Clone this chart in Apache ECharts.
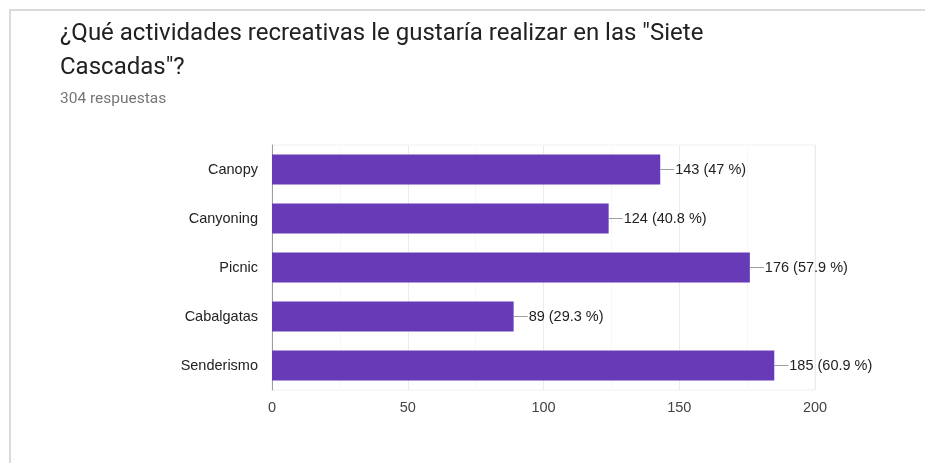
<!DOCTYPE html>
<html>
<head>
<meta charset="utf-8">
<script src="https://cdn.jsdelivr.net/npm/echarts@6/dist/echarts.min.js"></script>
<style>html,body{margin:0;padding:0;background:#fff;}#c{width:925px;height:463px;}</style>
</head>
<body>
<div id="c"></div>
<script>
const titleText = '¿Qué actividades recreativas le gustaría realizar en las "Siete\nCascadas"?';
const subtitleText = '304 respuestas';
const categories = ['Canopy', 'Canyoning', 'Picnic', 'Cabalgatas', 'Senderismo'];
const counts = [143, 124, 176, 89, 185];
const percents = ['47', '40.8', '57.9', '29.3', '60.9'];
const xTicks = [0, 50, 100, 150, 200];

const chart = echarts.init(document.getElementById('c'));
chart.setOption({
  animation: false,
  backgroundColor: '#fff',
  graphic: [
    { type: 'rect', shape: { x: 10, y: 10, width: 930, height: 470 }, style: { fill: 'none', stroke: '#dadada', lineWidth: 2 }, z: 0 },
    { type: 'text', left: 60, top: 17, style: { text: titleText, font: '24px Roboto', fill: '#212121', lineHeight: 34 } },
    { type: 'text', left: 60, top: 91, style: { text: subtitleText, font: '15.5px Roboto', fill: '#757575' } }
  ],
  grid: { left: 272, right: 110, top: 145, bottom: 73, show: true, borderColor: '#f0f0f0', borderWidth: 1 },
  xAxis: {
    type: 'value', min: xTicks[0], max: xTicks[xTicks.length - 1], interval: 50,
    axisLine: { show: false }, axisTick: { show: false },
    axisLabel: { color: '#444', fontFamily: 'Arial, Liberation Sans', fontSize: 14.5, margin: 10 },
    splitLine: { lineStyle: { color: '#ebebeb' } },
    minorTick: { show: false, splitNumber: 2 },
    minorSplitLine: { show: true, lineStyle: { color: '#f7f7f7' } }
  },
  yAxis: {
    type: 'category', data: categories, inverse: true,
    axisLine: { show: true, lineStyle: { color: '#9e9e9e', width: 1 } },
    axisTick: { show: false },
    axisLabel: { color: '#222', fontFamily: 'Arial, Liberation Sans', fontSize: 14.5, margin: 14 }
  },
  series: [{
    type: 'bar', data: counts, barWidth: 30,
    itemStyle: { color: '#673ab7' },
    label: {
      show: true, position: 'right', distance: 0,
      formatter: p => '{l|}{t|' + counts[p.dataIndex] + ' (' + percents[p.dataIndex] + ' %)}',
      rich: {
        l: { width: 14, height: 1, backgroundColor: '#9e9e9e', verticalAlign: 'middle' },
        t: { color: '#222', fontFamily: 'Arial, Liberation Sans', fontSize: 14.5, padding: [0, 0, 0, 1], verticalAlign: 'middle' }
      }
    }
  }]
});
</script>
</body>
</html>
